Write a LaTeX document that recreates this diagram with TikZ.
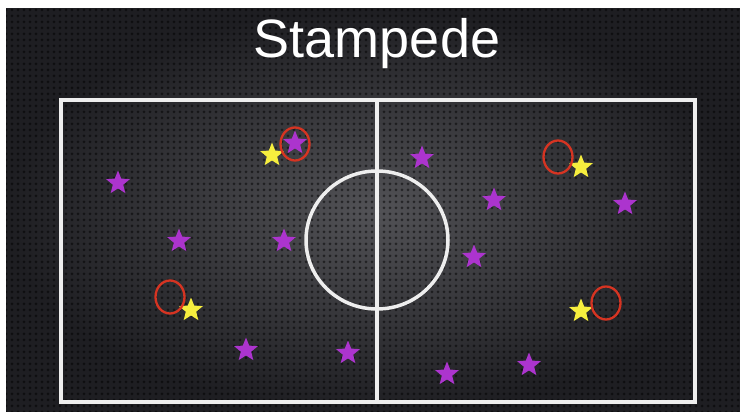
\documentclass[tikz,border=0pt]{standalone}
\usepackage{fontspec}
\setmainfont{Liberation Sans}
\usetikzlibrary{shapes.geometric,patterns.meta}

\definecolor{bgmid}{RGB}{82,82,86}
\definecolor{bgdark}{RGB}{30,30,34}
\definecolor{linewhite}{RGB}{238,238,238}
\definecolor{starpurple}{RGB}{172,52,206}
\definecolor{staryellow}{RGB}{246,238,62}
\definecolor{ringred}{RGB}{214,52,34}

\tikzset{
  pstar/.style={star, star points=5, star point ratio=2.3, fill=starpurple,
    minimum size=25pt, inner sep=0pt},
  ystar/.style={pstar, fill=staryellow},
  ring/.style={ellipse, draw=ringred, line width=2.3pt,
    minimum width=29pt, minimum height=33pt, inner sep=0pt},
  fieldline/.style={draw=linewhite, line width=3.5pt}
}

\begin{document}
\begin{tikzpicture}[x=1pt,y=-1pt]
  \useasboundingbox (0,0) rectangle (740,412);
  % Background: dark plate with dot mesh
  \fill[white] (0,0) rectangle (740,412);
  \shade[inner color=bgmid, outer color=bgdark] (6,9) rectangle (740,412);
  \fill[pattern={Dots[distance=6pt,radius=1.5pt]}, pattern color=black, opacity=0.5]
    (6,9) rectangle (740,412);
  % Title
  \node[anchor=base, text=white, font=\fontsize{54}{54}\selectfont] (title) at (377,58) {Stampede};
  % Field: outline, halfway line, centre circle
  \draw[fieldline] (61,100) rectangle (695,402);
  \draw[fieldline] (377,100) -- (377,402);
  \draw[fieldline] (377,240) ellipse[x radius=71, y radius=69];
  % Purple stars
  \foreach \x/\y [count=\i] in {295/143, 118/183, 179/241, 284/241, 246/350, 348/353,
      422/158, 494/200, 625/204, 474/257, 529/365, 447/374}
    \node[pstar] (p\i) at (\x,\y) {};
  % Yellow stars
  \foreach \x/\y [count=\i] in {272/155, 191/310, 581/167, 581/311}
    \node[ystar] (y\i) at (\x,\y) {};
  % Red rings
  \foreach \x/\y [count=\i] in {295/144, 170/297, 558/157, 606/303}
    \node[ring] (r\i) at (\x,\y) {};
\end{tikzpicture}
\end{document}
